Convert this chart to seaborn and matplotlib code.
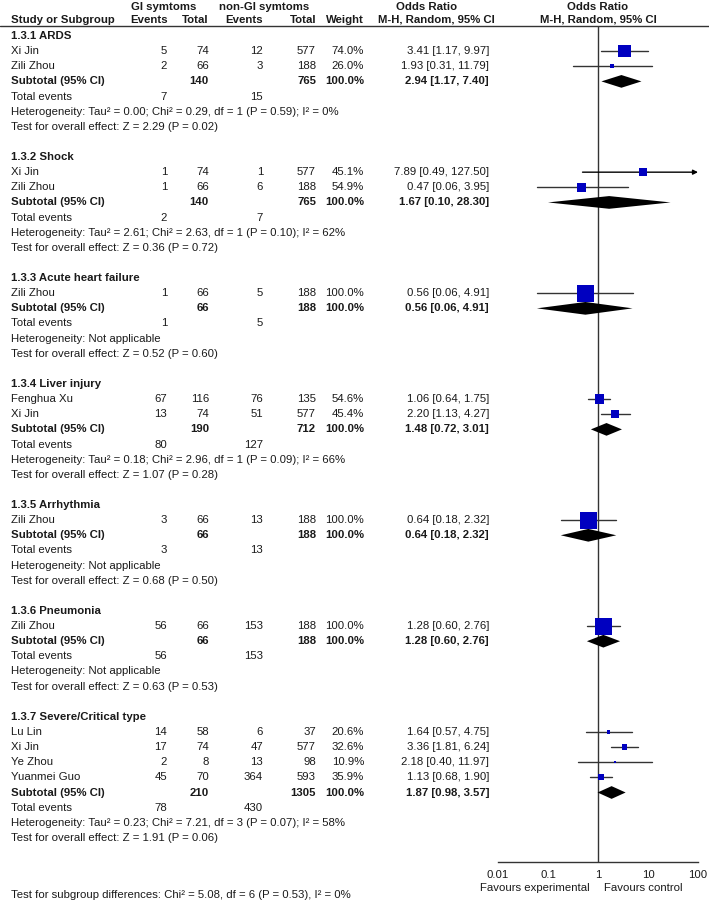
import numpy as np
import pandas as pd
import matplotlib
matplotlib.use("Agg")
import matplotlib.pyplot as plt
from matplotlib.ticker import FixedLocator, FixedFormatter, NullLocator
import seaborn as sns

# data
groups = ["1.3.1 ARDS", "1.3.2 Shock", "1.3.3 Acute heart failure", "1.3.4 Liver injury",
          "1.3.5 Arrhythmia", "1.3.6 Pneumonia", "1.3.7 Severe/Critical type"]

study_group = [0, 0, 1, 1, 2, 3, 3, 4, 5, 6, 6, 6, 6]
study_names = ["Xi Jin", "Zili Zhou", "Xi Jin", "Zili Zhou", "Zili Zhou", "Fenghua Xu", "Xi Jin",
               "Zili Zhou", "Zili Zhou", "Lu Lin", "Xi Jin", "Ye Zhou", "Yuanmei Guo"]
gi_events = [5, 2, 1, 1, 1, 67, 13, 3, 56, 14, 17, 2, 45]
gi_total = [74, 66, 74, 66, 66, 116, 74, 66, 66, 58, 74, 8, 70]
non_events = [12, 3, 1, 6, 5, 76, 51, 13, 153, 6, 47, 13, 364]
non_total = [577, 188, 577, 188, 188, 135, 577, 188, 188, 37, 577, 98, 593]
weights = [74.0, 26.0, 45.1, 54.9, 100.0, 54.6, 45.4, 100.0, 100.0, 20.6, 32.6, 10.9, 35.9]
odds = [3.41, 1.93, 7.89, 0.47, 0.56, 1.06, 2.20, 0.64, 1.28, 1.64, 3.36, 2.18, 1.13]
ci_lo = [1.17, 0.31, 0.49, 0.06, 0.06, 0.64, 1.13, 0.18, 0.60, 0.57, 1.81, 0.40, 0.68]
ci_hi = [9.97, 11.79, 127.50, 3.95, 4.91, 1.75, 4.27, 2.32, 2.76, 4.75, 6.24, 11.97, 1.90]

sub_gi_total = [140, 140, 66, 190, 66, 66, 210]
sub_non_total = [765, 765, 188, 712, 188, 188, 1305]
sub_or = [2.94, 1.67, 0.56, 1.48, 0.64, 1.28, 1.87]
sub_lo = [1.17, 0.10, 0.06, 0.72, 0.18, 0.60, 0.98]
sub_hi = [7.40, 28.30, 4.91, 3.01, 2.32, 2.76, 3.57]
sub_gi_events = [7, 2, 1, 80, 3, 56, 78]
sub_non_events = [15, 7, 5, 127, 13, 153, 430]
heterogeneity = ["Tau² = 0.00; Chi² = 0.29, df = 1 (P = 0.59); I² = 0%",
                 "Tau² = 2.61; Chi² = 2.63, df = 1 (P = 0.10); I² = 62%",
                 "Not applicable",
                 "Tau² = 0.18; Chi² = 2.96, df = 1 (P = 0.09); I² = 66%",
                 "Not applicable",
                 "Not applicable",
                 "Tau² = 0.23; Chi² = 7.21, df = 3 (P = 0.07); I² = 58%"]
overall = ["Z = 2.29 (P = 0.02)", "Z = 0.36 (P = 0.72)", "Z = 0.52 (P = 0.60)",
           "Z = 1.07 (P = 0.28)", "Z = 0.68 (P = 0.50)", "Z = 0.63 (P = 0.53)",
           "Z = 1.91 (P = 0.06)"]
subgroup_diff = "Test for subgroup differences: Chi² = 5.08, df = 6 (P = 0.53), I² = 0%"

tick_vals = [0.01, 0.1, 1, 10, 100]
tick_labels = ["0.01", "0.1", "1", "10", "100"]

# layout
W, H = 709, 902
ROW0, PITCH = 36, 15.13
def ypix(r):
    return ROW0 + PITCH * r

TXT = "#1a1a1a"
LINE = "#333333"
FS = 8.2

sns.set_style("white")
plt.rcParams["font.family"] = ["Liberation Sans", "DejaVu Sans"]

fig = plt.figure(figsize=(W / 100, H / 100), dpi=100)
bg = fig.add_axes([0, 0, 1, 1])
bg.set_xlim(0, W)
bg.set_ylim(H, 0)
bg.axis("off")

ax_top, ax_bot = 26, 862
ax = fig.add_axes([498 / W, (H - ax_bot) / H, 200 / W, (ax_bot - ax_top) / H])
ax.set_xscale("log")
ax.set_xlim(0.01, 100)
ax.set_ylim((ax_bot - ROW0) / PITCH, (ax_top - ROW0) / PITCH)
ax.patch.set_alpha(0)

def txt(x, r, s, ha="left", bold=False, y=None):
    bg.text(x, ypix(r) if y is None else y, s, ha=ha, va="center", fontsize=FS, color=TXT,
            fontweight="bold" if bold else "normal")

# header
for x, s, ha in [(164, "GI symtoms", "center"), (264, "non-GI symtoms", "center"),
                 (427, "Odds Ratio", "center"), (598, "Odds Ratio", "center")]:
    bg.text(x, 6.5, s, ha=ha, va="center", fontsize=FS, color=TXT, fontweight="bold")
for x, s, ha in [(11, "Study or Subgroup", "left"), (168, "Events", "right"), (209, "Total", "right"),
                 (263, "Events", "right"), (316, "Total", "right"), (364, "Weight", "right"),
                 (436, "M-H, Random, 95% CI", "center"), (598, "M-H, Random, 95% CI", "center")]:
    bg.text(x, 20, s, ha=ha, va="center", fontsize=FS, color=TXT, fontweight="bold")
bg.plot([0, W], [25.5, 25.5], color=LINE, lw=1)

# build rows
study_row = []
sub_row = []
r = 0
for g, title in enumerate(groups):
    txt(11, r, title, bold=True)
    r += 1
    for i in range(len(study_names)):
        if study_group[i] != g:
            continue
        study_row.append(r)
        txt(11, r, study_names[i])
        txt(167, r, str(gi_events[i]), "right")
        txt(209, r, str(gi_total[i]), "right")
        txt(263, r, str(non_events[i]), "right")
        txt(316, r, str(non_total[i]), "right")
        txt(364, r, f"{weights[i]:.1f}%", "right")
        txt(489, r, f"{odds[i]:.2f} [{ci_lo[i]:.2f}, {ci_hi[i]:.2f}]", "right")
        r += 1
    sub_row.append(r)
    txt(11, r, "Subtotal (95% CI)", bold=True)
    txt(209, r, str(sub_gi_total[g]), "right", bold=True)
    txt(316, r, str(sub_non_total[g]), "right", bold=True)
    txt(364, r, "100.0%", "right", bold=True)
    txt(489, r, f"{sub_or[g]:.2f} [{sub_lo[g]:.2f}, {sub_hi[g]:.2f}]", "right", bold=True)
    r += 1
    txt(11, r, "Total events")
    txt(167, r, str(sub_gi_events[g]), "right")
    txt(263, r, str(sub_non_events[g]), "right")
    r += 1
    txt(11, r, "Heterogeneity: " + heterogeneity[g])
    r += 1
    txt(11, r, "Test for overall effect: " + overall[g])
    r += 2

df = pd.DataFrame({"row": study_row, "or": odds, "lo": ci_lo, "hi": ci_hi, "w": weights})
df["box"] = df["w"] ** 2

# confidence intervals
for _, d in df.iterrows():
    if d["hi"] > 100:
        ax.annotate("", xy=(100, d["row"]), xytext=(d["lo"], d["row"]),
                    arrowprops=dict(arrowstyle="-|>", color="black", lw=1,
                                    mutation_scale=7, shrinkA=0, shrinkB=0))
    else:
        ax.plot([d["lo"], d["hi"]], [d["row"], d["row"]], color=LINE, lw=1, zorder=2)

# study boxes, side proportional to weight
sns.scatterplot(data=df, x="or", y="row", size="box", sizes=(0, 12.2 ** 2), size_norm=(0, 100 ** 2),
                marker="s", color="#0000c0", linewidth=0, legend=False, ax=ax, zorder=3)

# subtotal diamonds
h = 0.42
for g in range(len(groups)):
    rr = sub_row[g]
    ax.fill([sub_lo[g], sub_or[g], sub_hi[g], sub_or[g]], [rr, rr - h, rr, rr + h],
            color="black", lw=0, zorder=3)

ax.axvline(1, color=LINE, lw=1, zorder=1)
ax.set_xlabel("")
ax.set_ylabel("")
for s in ["top", "left", "right"]:
    ax.spines[s].set_visible(False)
ax.spines["bottom"].set_color(LINE)
ax.spines["bottom"].set_linewidth(1)
ax.yaxis.set_major_locator(NullLocator())
ax.xaxis.set_major_locator(FixedLocator(tick_vals))
ax.xaxis.set_major_formatter(FixedFormatter(tick_labels))
ax.xaxis.set_minor_locator(NullLocator())
ax.tick_params(axis="x", direction="inout", length=7, width=1, color=LINE,
               labelsize=FS, labelcolor=TXT, pad=2)

bg.text(590, 888, "Favours experimental", ha="right", va="center", fontsize=FS, color=TXT)
bg.text(604, 888, "Favours control", ha="left", va="center", fontsize=FS, color=TXT)
bg.text(11, 895, subgroup_diff, ha="left", va="center", fontsize=FS, color=TXT)

fig.savefig("out.png", dpi=100)
